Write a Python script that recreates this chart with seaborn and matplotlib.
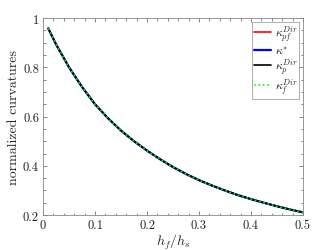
import numpy as np
import pandas as pd
import matplotlib
matplotlib.use("Agg")
import matplotlib.pyplot as plt
import seaborn as sns
from matplotlib.ticker import MultipleLocator, FuncFormatter

# values (all four series coincide)
h_ratio = [0.01, 0.025, 0.05, 0.075, 0.10, 0.125, 0.15, 0.175, 0.20, 0.225, 0.25,
           0.275, 0.30, 0.325, 0.35, 0.375, 0.40, 0.425, 0.45, 0.475, 0.50]
kappa_pf = [0.958, 0.893, 0.800, 0.720, 0.650, 0.593, 0.543, 0.500, 0.462, 0.427, 0.395,
            0.367, 0.342, 0.320, 0.300, 0.281, 0.265, 0.250, 0.236, 0.223, 0.211]
kappa_star = kappa_pf
kappa_p = kappa_pf
kappa_f = kappa_pf

labels = [r"$\kappa_{pf}^{Dir}$", r"$\kappa^{*}$", r"$\kappa_{p}^{Dir}$", r"$\kappa_{f}^{Dir}$"]

sns.set_style("ticks")
plt.rcParams["font.family"] = "serif"
plt.rcParams["font.serif"] = ["cmr10", "DejaVu Serif"]
plt.rcParams["mathtext.fontset"] = "cm"
plt.rcParams["axes.formatter.use_mathtext"] = True

fig = plt.figure(figsize=(3.34, 2.51), dpi=100)
ax = fig.add_axes([0.129, 0.139, 0.778, 0.785])

df = pd.DataFrame({"h": h_ratio, "pf": kappa_pf, "star": kappa_star,
                   "p": kappa_p, "f": kappa_f})
sns.lineplot(data=df, x="h", y="pf", ax=ax, color="red", lw=1.2, label=labels[0])
sns.lineplot(data=df, x="h", y="star", ax=ax, color="blue", lw=1.6, label=labels[1])
sns.lineplot(data=df, x="h", y="p", ax=ax, color="black", lw=1.2, label=labels[2])
sns.lineplot(data=df, x="h", y="f", ax=ax, color="#00ff00", lw=1.2, ls=":", label=labels[3])

ax.set_xlim(0, 0.5)
ax.set_ylim(0.2, 1.0)
fmt = FuncFormatter(lambda v, p: f"{v:.1f}".rstrip("0").rstrip(".") if abs(v) > 1e-9 else "0")
ax.xaxis.set_major_locator(MultipleLocator(0.1))
ax.xaxis.set_minor_locator(MultipleLocator(0.02))
ax.yaxis.set_major_locator(MultipleLocator(0.2))
ax.yaxis.set_minor_locator(MultipleLocator(0.05))
ax.xaxis.set_major_formatter(fmt)
ax.yaxis.set_major_formatter(fmt)
ax.tick_params(which="both", direction="in", top=True, right=True,
               colors="#555555", labelcolor="#222222", labelsize=9)
ax.tick_params(which="major", length=3, width=0.5, pad=3)
ax.tick_params(which="minor", length=1.8, width=0.5)
for s in ax.spines.values():
    s.set_color("#888888")
    s.set_linewidth(0.6)

ax.set_xlabel(r"$h_f/h_s$", fontsize=10, labelpad=0)
ax.set_ylabel("normalized curvatures", fontsize=10, labelpad=2)

leg = ax.legend(loc="upper right", fontsize=8.5, frameon=True, fancybox=False,
                edgecolor="#888888", handlelength=1.5, handletextpad=0.3,
                borderpad=0.15, labelspacing=-0.02, borderaxespad=0.3)
leg.get_frame().set_linewidth(0.6)

fig.savefig("out.png", dpi=100)
